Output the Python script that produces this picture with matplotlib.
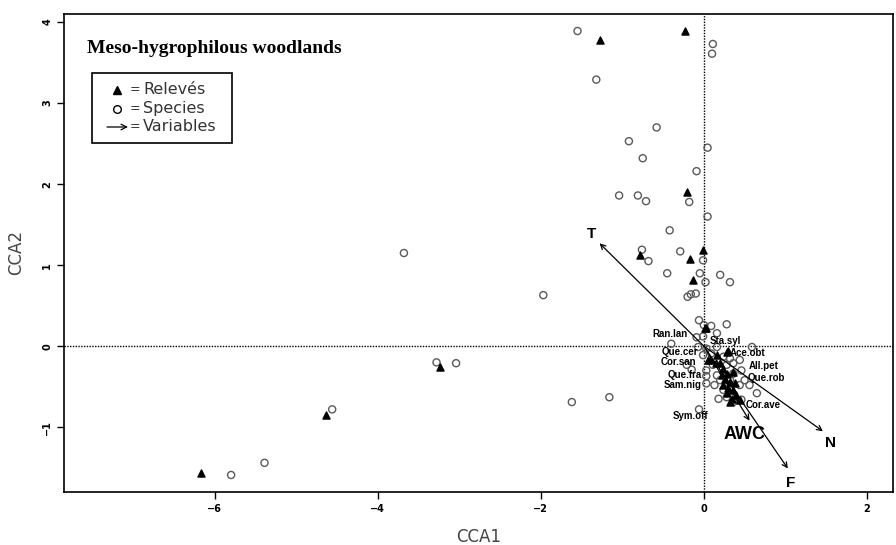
import numpy as np
import matplotlib
matplotlib.use("Agg")
import matplotlib.pyplot as plt

# Relevés (site scores)
releve_x = [-1.28, -0.23, -0.21, -0.78, -0.01, -0.17, -0.13, -3.24, -4.64, -6.17,
            0.02, 0.01, 0.28, 0.16, 0.07, 0.20, 0.24, 0.28, 0.36, 0.26, 0.32, 0.24,
            0.30, 0.36, 0.28, 0.40, 0.34, 0.32, 0.44, 0.38, 0.05, 0.15, 0.22, 0.29]
releve_y = [3.78, 3.89, 1.90, 1.12, 1.19, 1.07, 0.82, -0.26, -0.85, -1.56,
            0.22, 0.23, -0.07, -0.11, -0.17, -0.21, -0.28, -0.34, -0.32, -0.40, -0.44, -0.48,
            -0.52, -0.54, -0.58, -0.60, -0.65, -0.69, -0.67, -0.46, -0.17, -0.21, -0.36, -0.06]

# Species scores
species_x = [-1.55, 0.11, 0.10, -1.32, -0.58, -0.92, -0.75, 0.045, -0.09,
             -1.04, -0.81, -0.71, -0.18, 0.045, -0.42, -0.76, -0.68, -0.29, -0.01,
             -0.45, -0.05, 0.20, 0.32, 0.02, -0.10, -0.16, -0.20, -1.97,
             -0.06, 0.00, 0.09, 0.28, -3.68, -3.28, -3.04, -1.62, -1.16, -0.06,
             -4.56, -5.39, -5.80,
             0.16, -0.01, -0.09, -0.40, 0.59, -0.07, 0.03, -0.01, 0.24, 0.32, 0.44,
             0.36, -0.21, -0.15, 0.03, 0.46, 0.03, 0.16, 0.50, 0.20, 0.03, 0.13,
             0.44, 0.56, 0.24, 0.65, 0.28, 0.46, 0.36, 0.16, 0.09, 0.28, 0.32,
             0.36, 0.11, 0.18]
species_y = [3.89, 3.73, 3.61, 3.29, 2.70, 2.53, 2.32, 2.45, 2.16,
             1.86, 1.86, 1.79, 1.78, 1.60, 1.43, 1.19, 1.05, 1.17, 1.06,
             0.90, 0.90, 0.88, 0.79, 0.79, 0.65, 0.64, 0.61, 0.63,
             0.32, 0.26, 0.25, 0.27, 1.15, -0.20, -0.21, -0.69, -0.63, -0.78,
             -0.78, -1.44, -1.59,
             0.16, 0.12, 0.11, 0.03, -0.01, -0.01, -0.03, -0.11, -0.13, -0.15, -0.17,
             -0.21, -0.23, -0.29, -0.30, -0.30, -0.37, -0.36, -0.42, -0.42, -0.46, -0.48,
             -0.48, -0.48, -0.54, -0.58, -0.63, -0.66, -0.69, -0.01, -0.09, -0.23, -0.42,
             -0.34, -0.23, -0.65]

# labelled species
label_names = ["Ran.lan", "Sta.syl", "Que.cer", "Ace.obt", "Cor.san", "All.pet",
               "Que.fra", "Que.rob", "Sam.nig", "Cor.ave", "Sym.off"]
label_x = [-0.42, 0.26, -0.29, 0.54, -0.31, 0.73, -0.23, 0.77, -0.26, 0.73, -0.17]
label_y = [0.15, 0.06, -0.07, -0.08, -0.19, -0.25, -0.35, -0.39, -0.48, -0.72, -0.86]

# environmental variables (biplot arrows)
var_names = ["T", "N", "F", "AWC"]
var_x = [-1.28, 1.46, 1.03, 0.56]
var_y = [1.27, -1.05, -1.51, -0.92]
var_lab_x = [-1.38, 1.55, 1.07, 0.50]
var_lab_y = [1.39, -1.20, -1.69, -1.09]
var_size = [11, 11, 11, 13]

fig = plt.figure(figsize=(8.96, 5.45), dpi=100)
ax = fig.add_axes([64 / 896, 53 / 545, 829 / 896, 478 / 545])

ax.axhline(0, color="black", linestyle=(0, (1, 1)), linewidth=1.0, zorder=1)
ax.axvline(0, color="black", linestyle=(0, (1, 1)), linewidth=1.0, zorder=1)

ax.scatter(species_x, species_y, s=26, facecolors="none", edgecolors="#5a5a5a",
           linewidths=1.0, zorder=2)
ax.scatter(releve_x, releve_y, s=26, marker="^", color="black", zorder=3)

for name, x, y in zip(label_names, label_x, label_y):
    ax.text(x, y, name, fontsize=7, fontweight="bold", ha="center", va="center",
            family="Liberation Sans", zorder=4)

for name, x, y, lx, ly, fs in zip(var_names, var_x, var_y, var_lab_x, var_lab_y, var_size):
    ax.annotate("", xy=(x, y), xytext=(0, 0),
                arrowprops=dict(arrowstyle="->", color="black", lw=0.9,
                                shrinkA=0, shrinkB=0, mutation_scale=9), zorder=5)
    ax.text(lx, ly, name, fontsize=fs, fontweight="bold", ha="center", va="center",
            family="Liberation Sans")

ax.set_xlim(-7.85, 2.32)
ax.set_ylim(-1.80, 4.10)
ax.set_xticks([-6, -4, -2, 0, 2])
ax.set_yticks([-1, 0, 1, 2, 3, 4])
ax.tick_params(labelsize=7, length=5, width=1)
for lab in ax.get_xticklabels() + ax.get_yticklabels():
    lab.set_fontweight("bold")
for lab in ax.get_yticklabels():
    lab.set_rotation(90)
    lab.set_va("center")
for spine in ax.spines.values():
    spine.set_linewidth(1.2)

ax.set_xlabel("CCA1", fontsize=12, color="#444444", labelpad=10)
ax.set_ylabel("CCA2", fontsize=12, color="#444444", labelpad=12)

# title and legend inside the plot
ax.text((87 - 64) / 829, (492 - 49) / 478, "Meso-hygrophilous woodlands",
        transform=ax.transAxes, fontsize=14, fontweight="bold", family="Liberation Serif",
        ha="left", va="center")

leg_left = (92 - 64) / 829
leg_bottom = (492 - 143) / 478
box = plt.Rectangle((leg_left, leg_bottom), 140 / 829, 70 / 478, transform=ax.transAxes,
                    fill=False, edgecolor="black", linewidth=1.2)
ax.add_patch(box)
rows = [(492 - 90) / 478, (492 - 109) / 478, (492 - 127) / 478]
sym_x = (117 - 64) / 829
eq_x = (130 - 64) / 829
txt_x = (143 - 64) / 829
ax.plot([sym_x], [rows[0]], marker="^", color="black", markersize=6, transform=ax.transAxes)
ax.plot([sym_x], [rows[1]], marker="o", markerfacecolor="none", markeredgecolor="black",
        markersize=5.5, transform=ax.transAxes)
ax.annotate("", xy=(sym_x + 11 / 829, rows[2]), xytext=(sym_x - 10 / 829, rows[2]),
            xycoords="axes fraction",
            arrowprops=dict(arrowstyle="->", color="black", lw=0.9, shrinkA=0, shrinkB=0))
for r, t in zip(rows, ["Relevés", "Species", "Variables"]):
    ax.text(eq_x, r, "=", transform=ax.transAxes, fontsize=9, color="#333333",
            ha="left", va="center")
    ax.text(txt_x, r, t, transform=ax.transAxes, fontsize=11.5, color="#333333",
            ha="left", va="center")

fig.savefig("out.png", dpi=100)
